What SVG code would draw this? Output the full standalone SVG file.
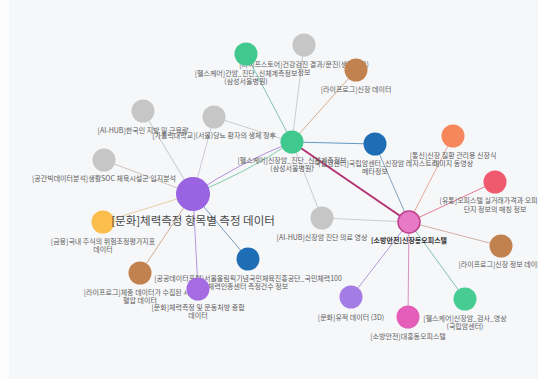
<svg xmlns="http://www.w3.org/2000/svg" width="538" height="379" viewBox="0 0 538 379">
<style>
.lbl{font-family:"Noto Sans CJK KR","Noto Sans",sans-serif;font-size:7px;fill:#5c5c5c;text-anchor:middle}
.big{font-size:11.5px;fill:#474747}
.bold{font-weight:bold;fill:#333}
.e{fill:none;stroke-width:1;stroke-opacity:0.85}
.gray{fill:#c6c6c6}
.green{fill:#3fc98f}
.brown{fill:#c2824f}
.blue{fill:#1f6db4}
</style>
<rect x="0" y="0" width="538" height="379" fill="#f6f7f9"/>
<rect x="0" y="0" width="9" height="379" fill="#fcfcfd"/>
<g id="connectors">
<path class="e" d="M193,194 Q239.7,162.7 292,142" stroke="#a77ad8"/>
<path class="e" d="M193,194 Q245.3,173.3 292,142" stroke="#69c3a0"/>
<line class="e" x1="193" y1="194" x2="143" y2="111" stroke="#bdbdbd"/>
<line class="e" x1="193" y1="194" x2="214" y2="117" stroke="#c4bfd0"/>
<line class="e" x1="193" y1="194" x2="104" y2="160" stroke="#c8b8b0"/>
<line class="e" x1="193" y1="194" x2="103" y2="222" stroke="#e2c99a"/>
<line class="e" x1="193" y1="194" x2="140" y2="273" stroke="#c8a084"/>
<line class="e" x1="193" y1="194" x2="198" y2="289" stroke="#a985d6"/>
<line class="e" x1="193" y1="194" x2="248" y2="259" stroke="#5e8db5"/>
<line class="e" x1="292" y1="142" x2="246" y2="54" stroke="#6cbcaa"/>
<line class="e" x1="292" y1="142" x2="304" y2="45" stroke="#c4c4c4"/>
<line class="e" x1="292" y1="142" x2="356" y2="70" stroke="#cc9f7c"/>
<line class="e" x1="292" y1="142" x2="214" y2="117" stroke="#c4c4c4"/>
<line class="e" x1="292" y1="142" x2="375" y2="144" stroke="#4a88b8"/>
<line class="e" x1="292" y1="142" x2="322" y2="218" stroke="#c4c4c4"/>
<line x1="292" y1="142" x2="409" y2="222" stroke="#b23372" stroke-width="2"/>
<line class="e" x1="409" y1="222" x2="375" y2="144" stroke="#6a95b8"/>
<line class="e" x1="409" y1="222" x2="453" y2="136" stroke="#e59a86"/>
<line class="e" x1="409" y1="222" x2="495" y2="182" stroke="#df6585"/>
<line class="e" x1="409" y1="222" x2="501" y2="246" stroke="#caa596"/>
<line class="e" x1="409" y1="222" x2="465" y2="299" stroke="#6ab8a6"/>
<line class="e" x1="409" y1="222" x2="408" y2="317" stroke="#d47ab5"/>
<line class="e" x1="409" y1="222" x2="351" y2="297" stroke="#a98ad6"/>
<line class="e" x1="409" y1="222" x2="322" y2="218" stroke="#c4c4c4"/>
</g>
<g id="node-E"><text class="lbl" x="304" y="66.5">[라이프스토어]건강검진 결과/문진(생활습관)<tspan x="304" dy="8.5">정보</tspan></text><circle class="gray" cx="304" cy="45" r="11.5"/></g>
<g id="node-D"><text class="lbl" x="246" y="75.5">[헬스케어]간암_진단_신체계측정보<tspan x="246" dy="8.5">(삼성서울병원)</tspan></text><circle class="green" cx="246" cy="54" r="11.5"/></g>
<g id="node-F"><text class="lbl" x="356" y="91.5">[라이프로그]신장 데이터</text><circle class="brown" cx="356" cy="70" r="11.5"/></g>
<g id="node-G"><text class="lbl" x="143" y="132.5">[AI-HUB]한국인 지방 및 근육량</text><circle class="gray" cx="143" cy="111" r="11.5"/></g>
<g id="node-H"><text class="lbl" x="214" y="138">[가톨릭대학교](서울)당뇨 환자의 생체 징후</text><circle class="gray" cx="214" cy="117" r="11.5"/></g>
<g id="node-I"><text class="lbl" x="104" y="181">[공간빅데이터분석]생활SOC 체육시설군 입지분석</text><circle class="gray" cx="104" cy="160" r="11.5"/></g>
<g id="node-O"><text class="lbl" x="375" y="165.5">[국립암센터]국립암센터_신장암 레지스트리<tspan x="375" dy="8">메타정보</tspan></text><circle class="blue" cx="375" cy="144" r="11.5"/></g>
<g id="node-B"><text class="lbl" x="292" y="163">[헬스케어]신장암_진단_신체계측정보<tspan x="292" dy="7.5">(삼성서울병원)</tspan></text><circle class="green" cx="292" cy="142" r="11.5"/></g>
<g id="node-P"><text class="lbl" x="453" y="157.5">[통신]신장 질환 관리용 신장식<tspan x="453" dy="8.5">이미지 동영상</tspan></text><circle cx="453" cy="136" r="11.5" fill="#f6875c"/></g>
<g id="node-Q"><text class="lbl" x="495" y="203">[유통]오피스텔 실거래가격과 오피스텔<tspan x="495" dy="8.5">단지 정보의 매칭 정보</tspan></text><circle cx="495" cy="182" r="11.5" fill="#ef5a6e"/></g>
<g id="node-J"><text class="lbl" x="103" y="243.5">[금융]국내 주식의 위험조정평가지표<tspan x="103" dy="8">데이터</tspan></text><circle cx="103" cy="222" r="11.5" fill="#fbbd4c"/></g>
<g id="node-N"><text class="lbl" x="322" y="239.5">[AI-HUB]신장암 진단 의료 영상</text><circle class="gray" cx="322" cy="218" r="11.5"/></g>
<g id="node-R"><text class="lbl" x="501" y="267">[라이프로그]신장 정보 데이터</text><circle class="brown" cx="501" cy="246" r="11.5"/></g>
<g id="node-K"><text class="lbl" x="140" y="295">[라이프로그]체중 데이터가 수집된 시점<tspan x="140" dy="7.5">혈압 데이터</tspan></text><circle class="brown" cx="140" cy="273" r="11.5"/></g>
<g id="node-M"><text class="lbl" x="248" y="281">[공공데이터포털]서울올림픽기념국민체육진흥공단_국민체력100<tspan x="248" dy="7.5">체력인증센터 측정건수 정보</tspan></text><circle class="blue" cx="248" cy="259" r="11.5"/></g>
<g id="node-L"><text class="lbl" x="198" y="310">[문화]체력측정 및 운동처방 종합<tspan x="198" dy="7.5">데이터</tspan></text><circle cx="198" cy="289" r="11.5" fill="#a56be2"/></g>
<g id="node-U"><text class="lbl" x="351" y="319.5">[문화]유적 데이터 (3D)</text><circle cx="351" cy="297" r="11.5" fill="#a57be4"/></g>
<g id="node-S"><text class="lbl" x="465" y="320.5">[헬스케어]신장암_검사_영상<tspan x="465" dy="8">(국립암센터)</tspan></text><circle cx="465" cy="299" r="11.5" fill="#47cc93"/></g>
<g id="node-T"><text class="lbl" x="408" y="338.5">[소방안전]대흥동오피스텔</text><circle cx="408" cy="317" r="11.5" fill="#e45eb9"/></g>
<g id="node-C"><text class="lbl bold" x="409" y="243">[소방안전]신장동오피스텔</text><circle cx="409" cy="222" r="11" fill="#e67ac5" stroke="#c2418e" stroke-width="1.5"/></g>
<g id="node-A"><text class="lbl big" x="193" y="225">[문화]체력측정 항목별 측정 데이터</text><circle cx="193" cy="194" r="17" fill="#9a63e2"/></g>
</svg>
